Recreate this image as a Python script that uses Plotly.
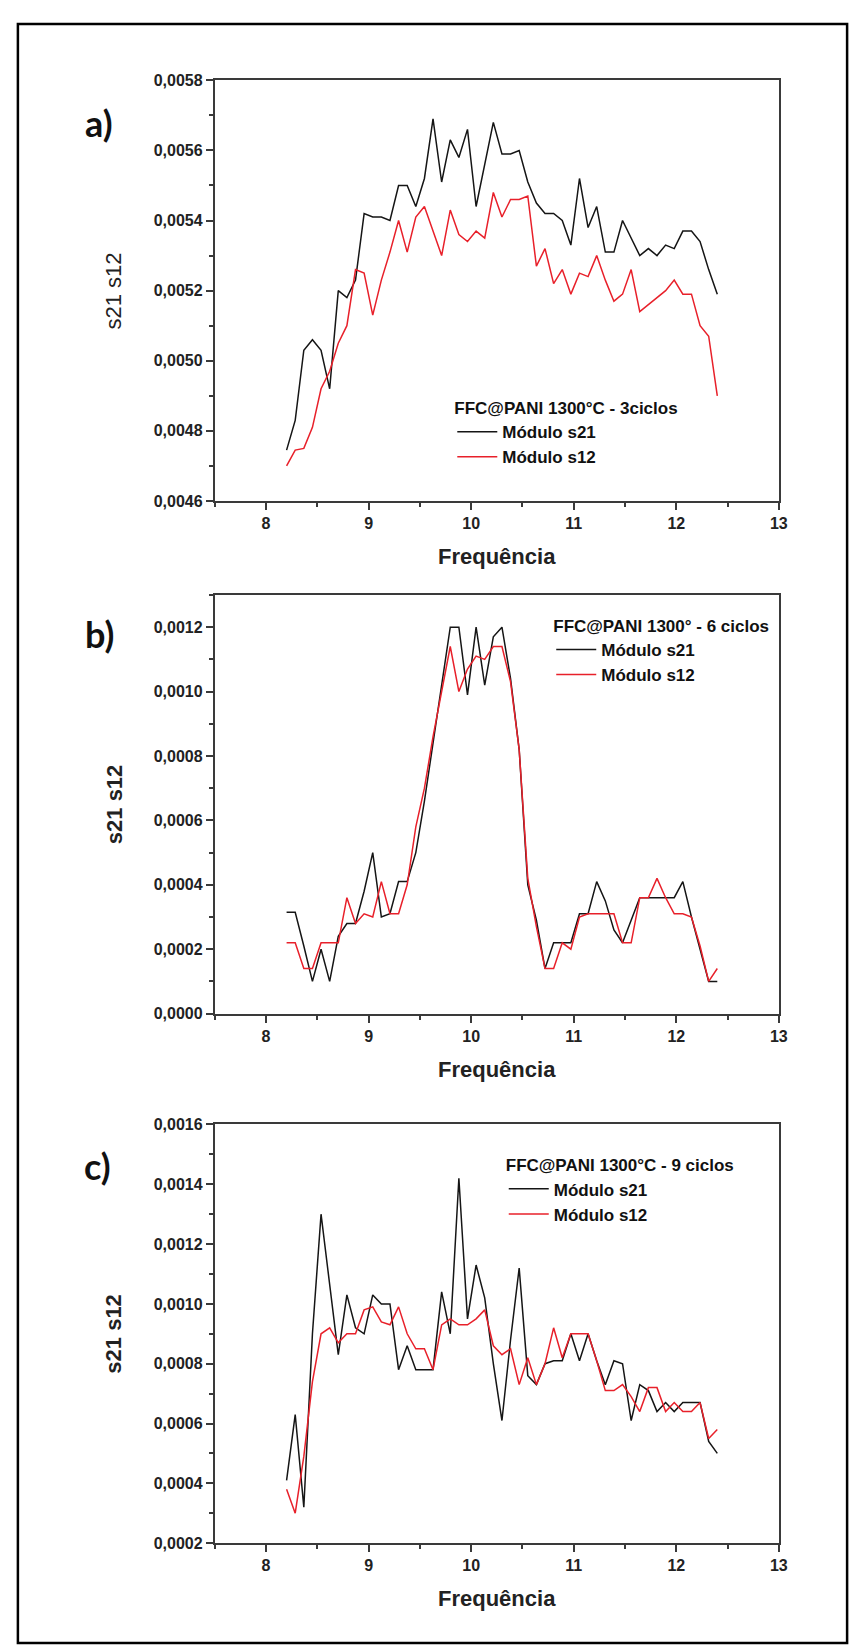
import plotly.graph_objects as go

FREQ = [8.200, 8.284, 8.368, 8.452, 8.536, 8.620, 8.704, 8.788, 8.872, 8.956,
        9.040, 9.124, 9.208, 9.292, 9.376, 9.460, 9.544, 9.628, 9.712, 9.796,
        9.880, 9.964, 10.048, 10.132, 10.216, 10.300, 10.384, 10.468, 10.552, 10.636,
        10.720, 10.804, 10.888, 10.972, 11.056, 11.140, 11.224, 11.308, 11.392, 11.476,
        11.560, 11.644, 11.728, 11.812, 11.896, 11.980, 12.064, 12.148, 12.232, 12.316,
        12.400]

A_S21 = [0.004745, 0.00483, 0.00503, 0.00506, 0.00503, 0.00492, 0.00520, 0.00518, 0.00523, 0.00542,
         0.00541, 0.00541, 0.00540, 0.00550, 0.00550, 0.00544, 0.00552, 0.00569, 0.00551, 0.00563,
         0.00558, 0.00566, 0.00544, 0.00556, 0.00568, 0.00559, 0.00559, 0.00560, 0.00551, 0.00545,
         0.00542, 0.00542, 0.00540, 0.00533, 0.00552, 0.00538, 0.00544, 0.00531, 0.00531, 0.00540,
         0.00535, 0.00530, 0.00532, 0.00530, 0.00533, 0.00532, 0.00537, 0.00537, 0.00534, 0.00526,
         0.00519]
A_S12 = [0.00470, 0.004745, 0.00475, 0.00481, 0.00492, 0.00497, 0.00505, 0.00510, 0.00526, 0.00525,
         0.00513, 0.00523, 0.00531, 0.00540, 0.00531, 0.00541, 0.00544, 0.00537, 0.00530, 0.00543,
         0.00536, 0.00534, 0.00537, 0.00535, 0.00548, 0.00541, 0.00546, 0.00546, 0.00547, 0.00527,
         0.00532, 0.00522, 0.00526, 0.00519, 0.00525, 0.00524, 0.00530, 0.00523, 0.00517, 0.00519,
         0.00526, 0.00514, 0.00516, 0.00518, 0.00520, 0.00523, 0.00519, 0.00519, 0.00510, 0.00507,
         0.00490]

B_S21 = [0.000315, 0.000315, 0.00021, 0.0001, 0.0002, 0.0001, 0.00024, 0.00028, 0.00028, 0.00038,
         0.0005, 0.0003, 0.00031, 0.00041, 0.00041, 0.0005, 0.00066, 0.00084, 0.00102, 0.0012,
         0.0012, 0.00099, 0.0012, 0.00102, 0.00117, 0.0012, 0.00104, 0.00082, 0.0004, 0.00029,
         0.00014, 0.00022, 0.00022, 0.00022, 0.00031, 0.00031, 0.00041, 0.00035, 0.00026, 0.00022,
         0.00029, 0.00036, 0.00036, 0.00036, 0.00036, 0.00036, 0.00041, 0.0003, 0.0002, 0.0001,
         0.0001]
B_S12 = [0.00022, 0.00022, 0.00014, 0.00014, 0.00022, 0.00022, 0.00022, 0.00036, 0.00028, 0.00031,
         0.0003, 0.00041, 0.00031, 0.00031, 0.0004, 0.00058, 0.0007, 0.00086, 0.001, 0.00114,
         0.001, 0.00107, 0.00111, 0.0011, 0.00114, 0.00114, 0.00103, 0.00082, 0.00042, 0.00027,
         0.00014, 0.00014, 0.00022, 0.0002, 0.0003, 0.00031, 0.00031, 0.00031, 0.00031, 0.00022,
         0.00022, 0.00036, 0.00036, 0.00042, 0.00036, 0.00031, 0.00031, 0.0003, 0.00021, 0.0001,
         0.00014]

C_S21 = [0.00041, 0.00063, 0.00032, 0.0009, 0.0013, 0.00107, 0.00083, 0.00103, 0.00092, 0.0009,
         0.00103, 0.001, 0.001, 0.00078, 0.00086, 0.00078, 0.00078, 0.00078, 0.00104, 0.0009,
         0.00142, 0.00095, 0.00113, 0.00102, 0.0008, 0.00061, 0.00088, 0.00112, 0.00076, 0.00073,
         0.0008, 0.00081, 0.00081, 0.0009, 0.00081, 0.0009, 0.00081, 0.00073, 0.00081, 0.0008,
         0.00061, 0.00073, 0.00071, 0.00064, 0.00067, 0.00064, 0.00067, 0.00067, 0.00067, 0.00054,
         0.0005]
C_S12 = [0.00038, 0.0003, 0.00049, 0.00074, 0.0009, 0.00092, 0.00087, 0.0009, 0.0009, 0.00098,
         0.00099, 0.00094, 0.00093, 0.00099, 0.0009, 0.00085, 0.00085, 0.00078, 0.00093, 0.00095,
         0.00093, 0.00093, 0.00095, 0.00098, 0.00086, 0.00083, 0.00085, 0.00073, 0.00082, 0.00073,
         0.0008, 0.00092, 0.00082, 0.0009, 0.0009, 0.0009, 0.00081, 0.00071, 0.00071, 0.00073,
         0.00069, 0.00064, 0.00072, 0.00072, 0.00064, 0.00067, 0.00064, 0.00064, 0.00067, 0.00055,
         0.00058]

SERIES_NAMES = ["Módulo s21", "Módulo s12"]
LEGEND_TITLES = ["FFC@PANI 1300°C - 3ciclos", "FFC@PANI 1300° - 6 ciclos", "FFC@PANI 1300°C - 9 ciclos"]
PANEL_LABELS = ["a)", "b)", "c)"]
Y_RANGES = [(0.0046, 0.0058), (0.0, 0.0013), (0.0002, 0.0016)]
X_RANGE = (7.5, 13)
X_TITLE = "Frequência"
Y_TITLE = "s21 s12"

W, H = 858, 1652
FONT = "Liberation Sans, Arial, sans-serif"
AX_COLOR = "#3a3a3a"
COLORS = ["#151515", "#e8202a"]

# layout geometry (pixels)
BOX_L, BOX_R = 209, 779
BOXES_Y = [(65, 490), (585, 1008), (1120, 1543)]
LEG_POS = [(449, 380), (549, 600), (501, 1145)]
LABEL_POS = [(92, 108), (92, 624), (90, 1162)]
YTITLE_X = 107
XTITLE_GAP = 56


def px(x):
    return x / W


def py(y):
    return 1 - y / H


fig = go.Figure()
data = [(A_S21, A_S12), (B_S21, B_S12), (C_S21, C_S12)]

for i, (s21, s12) in enumerate(data):
    sfx = "" if i == 0 else str(i + 1)
    leg = "legend" + sfx
    for name, vals, col in zip(SERIES_NAMES, (s21, s12), COLORS):
        fig.add_trace(go.Scatter(
            x=FREQ, y=vals, mode="lines", name=name,
            line=dict(color=col, width=1.5),
            xaxis="x" + sfx, yaxis="y" + sfx, legend=leg,
        ))
    y0, y1 = BOXES_Y[i]
    eps = (Y_RANGES[i][1] - Y_RANGES[i][0]) * 1e-6
    common = dict(
        showline=True, linecolor=AX_COLOR, linewidth=2, mirror=True,
        ticks="outside", ticklen=7, tickwidth=2, tickcolor=AX_COLOR,
        showgrid=False, zeroline=False,
        tickfont=dict(family=FONT, size=16, color="#222", weight="bold"),
    )
    fig.layout["xaxis" + sfx] = dict(
        common, domain=[px(BOX_L), px(BOX_R)], range=list(X_RANGE),
        anchor="y" + sfx, dtick=1, tick0=0,
        minor=dict(dtick=0.5, ticks="outside", ticklen=4, tickwidth=2, tickcolor=AX_COLOR),
    )
    fig.layout["yaxis" + sfx] = dict(
        common, domain=[py(y1), py(y0)],
        range=[Y_RANGES[i][0] - eps, Y_RANGES[i][1] + eps],
        anchor="x" + sfx, dtick=0.0002, tick0=0, tickformat=".4f",
        minor=dict(dtick=0.0001, ticks="outside", ticklen=4, tickwidth=2, tickcolor=AX_COLOR),
    )
    # axis titles
    fig.add_annotation(
        x=px((BOX_L + BOX_R) / 2), y=py(y1 + XTITLE_GAP), xref="paper", yref="paper",
        text=X_TITLE, showarrow=False, xanchor="center", yanchor="middle",
        font=dict(family=FONT, size=22, color="#222", weight="bold"),
    )
    fig.add_annotation(
        x=px(YTITLE_X), y=py((y0 + y1) / 2), xref="paper", yref="paper",
        text=Y_TITLE, showarrow=False, textangle=-90, xanchor="center", yanchor="middle",
        font=dict(family=FONT, size=22, color="#222", weight="normal" if i == 0 else "bold"),
    )
    lx, ly = LEG_POS[i]
    fig.layout[leg] = dict(
        x=px(lx), y=py(ly), xanchor="left", yanchor="top",
        bgcolor="rgba(0,0,0,0)", borderwidth=0,
        font=dict(family=FONT, size=17, color="#111", weight="bold"),
        title=dict(text=LEGEND_TITLES[i],
                   font=dict(family=FONT, size=17, color="#111", weight="bold")),
        itemwidth=40, tracegroupgap=0,
    )
    ax_, ay_ = LABEL_POS[i]
    fig.add_annotation(
        x=px(ax_), y=py(ay_), xref="paper", yref="paper", text=PANEL_LABELS[i],
        showarrow=False, xanchor="center", yanchor="middle",
        font=dict(family="Lato, Open Sans, sans-serif", size=36, color="#111", weight="bold"),
    )

fig.add_shape(type="rect", xref="paper", yref="paper",
              x0=px(10), x1=px(848), y0=py(1644), y1=py(8),
              line=dict(color="black", width=2.5))

fig.update_layout(
    width=W, height=H, margin=dict(l=0, r=0, t=0, b=0),
    paper_bgcolor="white", plot_bgcolor="white",
    separators=",.", showlegend=True,
)

fig.write_html("out.html")
